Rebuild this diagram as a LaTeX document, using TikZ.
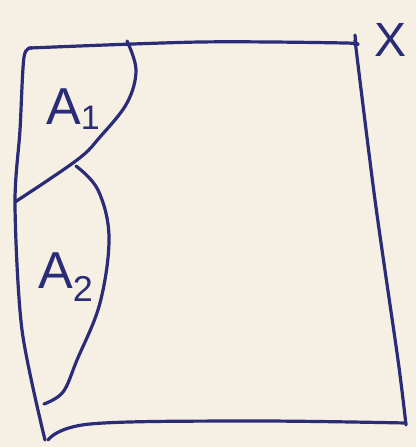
\documentclass[tikz,border=0pt]{standalone}
\usepackage{fontspec}
\setmainfont{Liberation Sans}
\definecolor{ink}{HTML}{2A2C78}
\definecolor{paper}{HTML}{F6F0E4}
\begin{document}
\begin{tikzpicture}[x=1pt,y=-1pt,
  pen/.style={draw=ink,line width=3.2pt,line cap=round,line join=round},
  lbl/.style={text=ink,inner sep=0pt,font=\fontsize{52}{52}\selectfont}]
\fill[paper] (0,0) rectangle (416,447);
\useasboundingbox (0,0) rectangle (416,447);
% outer set X
\draw[pen] (355,35) -- (356,45);
\draw[pen] plot[smooth,tension=0.5] coordinates {(30,48) (200,42) (345,43) (355,45)};
\draw[pen] plot[smooth,tension=0.5] coordinates {(355,40) (375,200) (398,360) (406,425)};
\draw[pen] plot[smooth,tension=0.6] coordinates {(406,423) (250,421) (90,424) (48,440)};
\draw[pen] plot[smooth,tension=0.5] coordinates {(32,48) (24,57) (20,130) (15,205) (22,330) (45,440)};
% A1 boundary
\draw[pen] plot[smooth,tension=0.6] coordinates {(127,41) (136,70) (127,103) (100,137) (77,160) (15,202)};
% A2 boundary
\draw[pen] plot[smooth,tension=0.6] coordinates {(76,166) (98,190) (109,237) (100,303) (77,360) (63,392) (44,404)};
% labels
\node[lbl,anchor=base west] (a1) at (46,124) {A\raisebox{-0.1em}{\fontsize{34}{34}\selectfont 1}};
\node[lbl,anchor=base west] (a2) at (38,288) {A\raisebox{-0.25em}{\fontsize{36}{36}\selectfont 2}};
\node[lbl,anchor=base west,font=\fontsize{48}{48}\selectfont] (xl) at (374,56) {X};
\end{tikzpicture}
\end{document}
